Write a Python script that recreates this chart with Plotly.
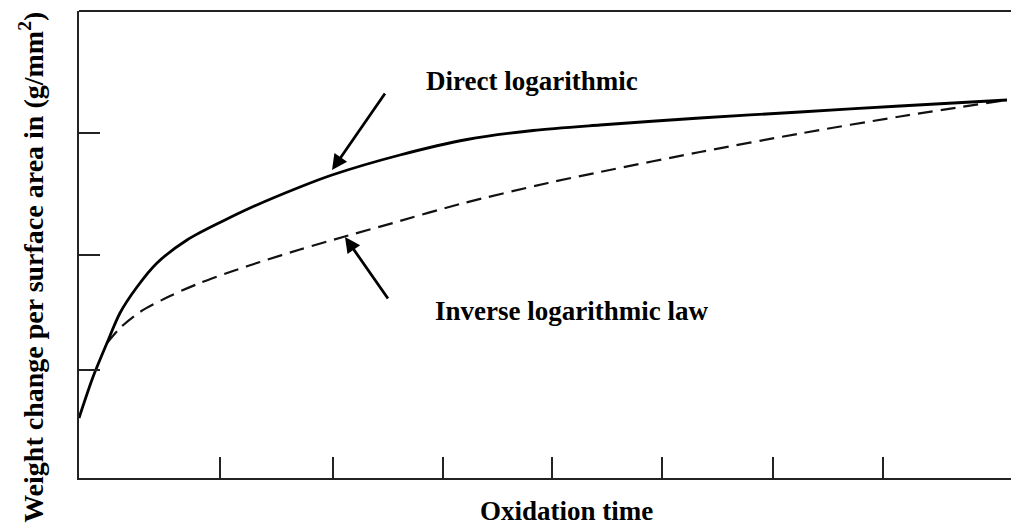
import plotly.graph_objects as go

# Oxidation time (arbitrary units) and weight change (arbitrary units)
direct_t = [0.00, 0.14, 0.28, 0.41, 0.58, 0.78, 1.08, 1.44, 1.71, 2.21, 2.53, 3.21,
            3.88, 4.54, 5.21, 6.21, 7.21, 8.21, 9.28]
direct_w = [0.60, 1.01, 1.35, 1.65, 1.91, 2.15, 2.38, 2.57, 2.70, 2.91, 3.03, 3.23,
            3.385, 3.475, 3.53, 3.60, 3.66, 3.72, 3.78]

inverse_t = [0.28, 0.41, 0.61, 0.91, 1.21, 1.54, 1.81, 2.21, 2.64, 3.14, 3.81, 4.69,
             5.21, 6.21, 7.21, 8.21, 9.28]
inverse_w = [1.35, 1.50, 1.66, 1.82, 1.95, 2.07, 2.16, 2.285, 2.41, 2.55, 2.74, 2.95,
             3.06, 3.26, 3.445, 3.615, 3.78]

x_ticks = [1.41, 2.54, 3.64, 4.73, 5.83, 6.94, 8.04]
y_ticks = [1.08, 2.23, 3.45]

FONT = "Liberation Serif"

fig = go.Figure()
fig.add_trace(go.Scatter(x=inverse_t, y=inverse_w, mode="lines",
                         line=dict(color="#111", width=2.2, dash="15px,8px",
                                   shape="spline", smoothing=0.8),
                         showlegend=False, hoverinfo="skip"))
fig.add_trace(go.Scatter(x=direct_t, y=direct_w, mode="lines",
                         line=dict(color="#000", width=2.8, shape="spline", smoothing=0.8),
                         showlegend=False, hoverinfo="skip"))

txt_font = dict(family=FONT, size=27, color="#000")
annotations = [
    dict(x=4.53, y=3.975, xref="x", yref="y", text="<b>Direct logarithmic</b>",
         showarrow=False, font=txt_font, xanchor="center", yanchor="middle"),
    dict(x=4.92, y=1.67, xref="x", yref="y", text="<b>Inverse logarithmic law</b>",
         showarrow=False, font=txt_font, xanchor="center", yanchor="middle"),
    dict(x=0.5236, y=-0.0705, xref="paper", yref="paper", text="<b>Oxidation time</b>",
         showarrow=False, font=txt_font, xanchor="center", yanchor="middle"),
    dict(x=0, y=0.45, xref="paper", yref="paper", xshift=-47,
         text="<b>Weight change per surface area in (g/mm<sup>2</sup>)</b>",
         showarrow=False, font=dict(family=FONT, size=28, color="#000"),
         textangle=-90, xanchor="center", yanchor="middle"),
    # arrows
    dict(x=2.53, y=3.08, ax=3.07, ay=3.86, xref="x", yref="y", axref="x", ayref="y",
         text="", showarrow=True, arrowhead=2, arrowsize=1.1, arrowwidth=2.8,
         arrowcolor="#000", standoff=0),
    dict(x=2.66, y=2.41, ax=3.10, ay=1.78, xref="x", yref="y", axref="x", ayref="y",
         text="", showarrow=True, arrowhead=2, arrowsize=1.1, arrowwidth=2.8,
         arrowcolor="#000", standoff=0),
]

fig.update_layout(
    width=1011, height=527,
    margin=dict(l=79, r=0, t=11, b=49),
    paper_bgcolor="white", plot_bgcolor="white",
    annotations=annotations,
    shapes=[dict(type="line", xref="paper", yref="paper", x0=0, x1=1, y0=1, y1=1,
                 line=dict(color="#222", width=2))],
    xaxis=dict(range=[0, 9.32], showline=True, linecolor="#222", linewidth=2, mirror=False,
               ticks="inside", ticklen=21, tickwidth=2, tickcolor="#222",
               tickvals=x_ticks, showticklabels=False, showgrid=False, zeroline=False,
               fixedrange=True),
    yaxis=dict(range=[0, 4.67], showline=True, linecolor="#222", linewidth=2, mirror=False,
               ticks="inside", ticklen=21, tickwidth=2, tickcolor="#222",
               tickvals=y_ticks, showticklabels=False, showgrid=False, zeroline=False,
               fixedrange=True),
)

fig.write_html("out.html", config={"displayModeBar": False})
